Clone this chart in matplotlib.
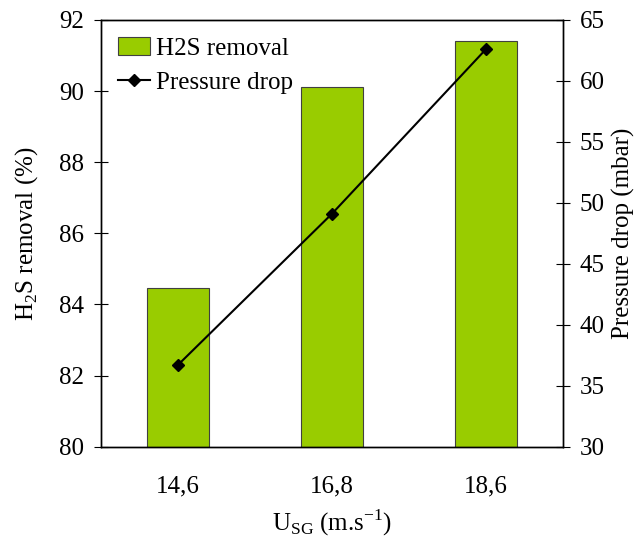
import numpy as np
import matplotlib.pyplot as plt

# data
categories = ['14,6', '16,8', '18,6']
h2s_removal = [84.47, 90.12, 91.41]
pressure_drop = [36.7, 49.1, 62.6]

plt.rcParams['font.family'] = ['Liberation Serif', 'DejaVu Serif']
plt.rcParams['mathtext.fontset'] = 'custom'
plt.rcParams['mathtext.rm'] = 'Liberation Serif'
fs = 18

fig = plt.figure(figsize=(6.42, 5.37), dpi=100)
ax = fig.add_axes([0.157, 0.168, 0.72, 0.795])
x = np.arange(len(categories))

bars = ax.bar(x, h2s_removal, width=0.4, color='#99CC00', edgecolor='#404040',
              linewidth=0.8, label='H2S removal', zorder=2)
ax.set_xlim(-0.5, 2.5)
ax.set_ylim(80, 92)
ax.set_yticks(np.arange(80, 93, 2))
ax.set_xticks(x)
ax.set_xticklabels(categories)
ax.tick_params(axis='x', length=0, pad=21, labelsize=fs)
ax.tick_params(axis='y', direction='inout', length=10, pad=7, labelsize=fs)
ax.set_ylabel('H$_2$S removal (%)', fontsize=fs, labelpad=14)
ax.set_xlabel(r'U$_{\mathrm{SG}}$ (m.s$^{\mathrm{-1}}$)', fontsize=fs, labelpad=7)

ax2 = ax.twinx()
line, = ax2.plot(x, pressure_drop, color='black', marker='D', markersize=6,
                 linewidth=1.5, label='Pressure drop', zorder=3)
ax2.set_ylim(30, 65)
ax2.set_yticks(np.arange(30, 66, 5))
ax2.tick_params(axis='y', direction='inout', length=10, pad=7, labelsize=fs)
ax2.set_ylabel('Pressure drop (mbar)', fontsize=fs, labelpad=5)

for a in (ax, ax2):
    for s in a.spines.values():
        s.set_linewidth(1.0)

ax.legend([bars, line], ['H2S removal', 'Pressure drop'], loc='upper left',
          frameon=False, fontsize=fs, handlelength=1.25, handletextpad=0.25,
          borderaxespad=0.3, labelspacing=0.45)

fig.savefig('out.png', dpi=100)
